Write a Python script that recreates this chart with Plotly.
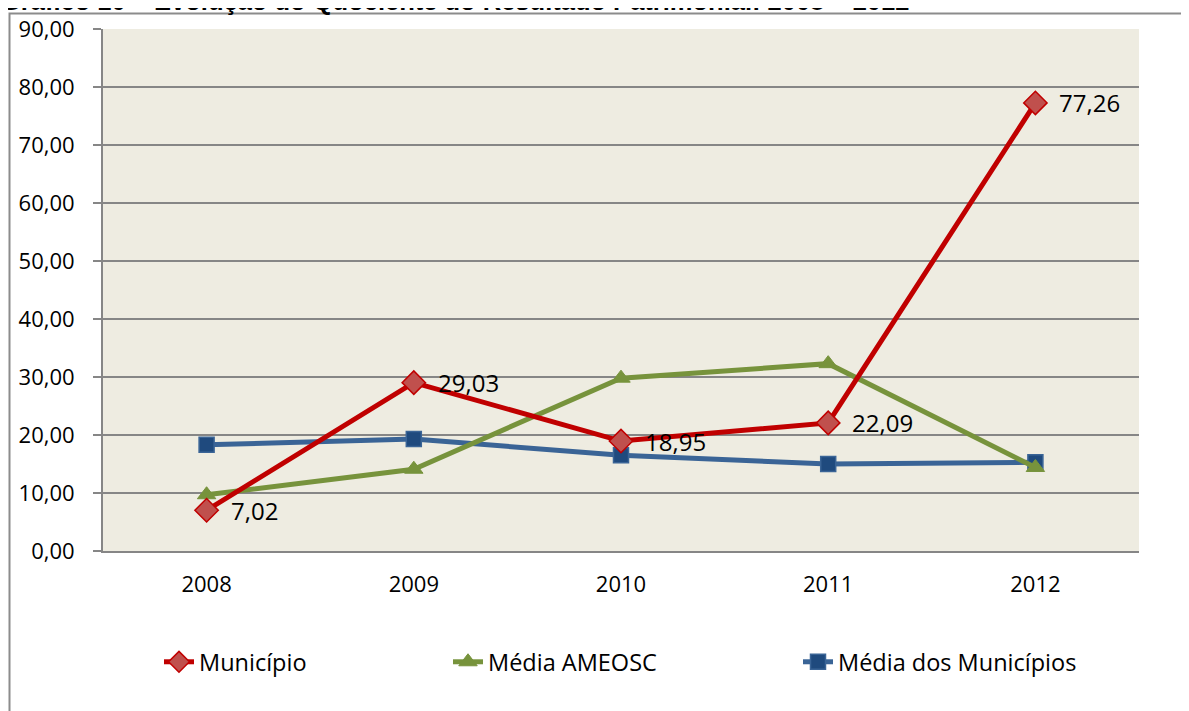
import plotly.graph_objects as go

years = ["2008", "2009", "2010", "2011", "2012"]
municipio = [7.02, 29.03, 18.95, 22.09, 77.26]
media_ameosc = [9.7, 14.1, 29.8, 32.3, 14.4]
media_municipios = [18.3, 19.3, 16.5, 15.0, 15.3]
municipio_labels = ["7,02", "29,03", "18,95", "22,09", "77,26"]
y_ticks = [0, 10, 20, 30, 40, 50, 60, 70, 80, 90]
y_tick_text = ["0,00", "10,00", "20,00", "30,00", "40,00", "50,00", "60,00", "70,00", "80,00", "90,00"]
title_text = "Gráfico 10 – Evolução do Quociente do Resultado Patrimonial: 2008 – 2012"

FONT = "Open Sans"
TITLE_FONT = "Liberation Sans"
OFF = 8  # page body margin
W, H = 1189 - OFF, 711 - OFF
# plot area in window pixels: x 103..1139, y 29..551
L, R, T, B = 103 - OFF, 1189 - 1139, 29 - OFF, 711 - 551
pw = W - L - R
ph = H - T - B

def px_x(x):
    return (x - OFF - L) / pw

def px_y(y):
    return (H - B - (y - OFF)) / ph

def cx(x):
    return (x - OFF) / W

def cy(y):
    return 1 - (y - OFF) / H

fig = go.Figure()

fig.add_trace(go.Scatter(
    x=years, y=media_municipios, name="Média dos Municípios", mode="lines+markers",
    line=dict(color="#3A6496", width=5),
    marker=dict(symbol="square", size=15, color="#1F4A7E", line=dict(color="#3A6496", width=1.5)),
    legend="legend3", cliponaxis=False,
))
fig.add_trace(go.Scatter(
    x=years, y=media_ameosc, name="Média AMEOSC", mode="lines+markers",
    line=dict(color="#77933C", width=5),
    marker=dict(symbol="triangle-up", size=16, color="#77933C", line=dict(color="#77933C", width=1)),
    legend="legend2", cliponaxis=False,
))
fig.add_trace(go.Scatter(
    x=years, y=municipio, name="Município", mode="lines+markers",
    line=dict(color="#C00000", width=5),
    marker=dict(symbol="diamond", size=18, color="#C0504D", line=dict(color="#C00000", width=1.5)),
    legend="legend", cliponaxis=False,
))

annotations = []
for i, (v, lab) in enumerate(zip(municipio, municipio_labels)):
    annotations.append(dict(
        x=i, y=v, xref="x", yref="y", text=lab, showarrow=False,
        xanchor="left", yanchor="middle", xshift=22,
        font=dict(family=FONT, size=24, color="#000000"),
    ))
annotations.append(dict(
    text="<b>" + title_text + "</b>", xref="paper", yref="paper",
    x=px_x(-1), y=px_y(17), xanchor="left", yanchor="bottom", showarrow=False,
    font=dict(family=TITLE_FONT, size=25.5, color="#000000"),
))

legend_common = dict(
    orientation="h", yanchor="middle", xanchor="left",
    xref="container", yref="container",
    font=dict(family=FONT, size=23.5, color="#000000"),
    bgcolor="rgba(0,0,0,0)", borderwidth=0,
)

fig.update_layout(
    width=W, height=H,
    margin=dict(l=L, r=R, t=T, b=B, pad=0, autoexpand=False),
    paper_bgcolor="#FFFFFF",
    plot_bgcolor="#EEECE1",
    font=dict(family=FONT, size=23, color="#000000"),
    showlegend=True,
    legend=dict(x=cx(159), y=cy(662), **legend_common),
    legend2=dict(x=cx(448), y=cy(662), **legend_common),
    legend3=dict(x=cx(798), y=cy(662), **legend_common),
    xaxis=dict(
        type="category", range=[-0.5, 4.5], showgrid=False,
        showline=True, linecolor="#868686", linewidth=2,
        ticks="", tickfont=dict(family=FONT, size=22), ticklabelstandoff=13,
        zeroline=False, fixedrange=True,
    ),
    yaxis=dict(
        range=[0, 90], tickvals=y_ticks, ticktext=y_tick_text,
        showgrid=True, gridcolor="#868686", gridwidth=2,
        showline=True, linecolor="#868686", linewidth=2,
        ticks="outside", ticklen=8, tickcolor="#868686", tickwidth=2,
        tickfont=dict(family=FONT, size=22), ticklabelstandoff=14,
        zeroline=False, fixedrange=True,
    ),
    shapes=[dict(
        type="rect", xref="paper", yref="paper",
        x0=px_x(9.5), x1=px_x(1200), y0=px_y(730), y1=px_y(13.5),
        line=dict(color="#8C8C8C", width=2), fillcolor="rgba(0,0,0,0)", layer="below",
    )],
    annotations=annotations,
)

fig.write_html("out.html")
